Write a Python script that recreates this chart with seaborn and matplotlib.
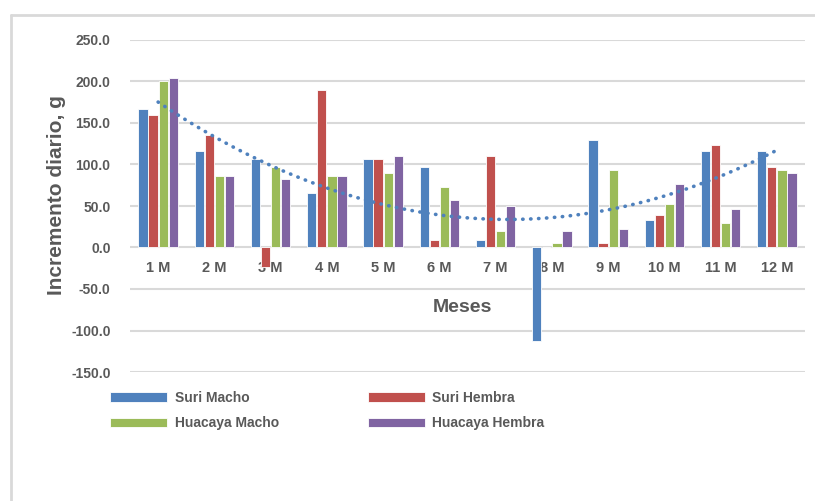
import numpy as np
import pandas as pd
import matplotlib
matplotlib.use("Agg")
import matplotlib.pyplot as plt
from matplotlib.lines import Line2D
import seaborn as sns

months = ["1 M", "2 M", "3 M", "4 M", "5 M", "6 M", "7 M", "8 M", "9 M", "10 M", "11 M", "12 M"]
series_names = ["Suri Macho", "Suri Hembra", "Huacaya Macho", "Huacaya Hembra"]
suri_macho = [167, 116, 107, 66, 107, 97, 9, -113, 130, 33, 116, 116]
suri_hembra = [160, 136, -24, 190, 107, 9, 110, 0, 6, 39, 123, 97]
huacaya_macho = [200, 86, 97, 86, 90, 73, 20, 6, 93, 53, 30, 93]
huacaya_hembra = [204, 86, 83, 86, 110, 57, 50, 20, 22, 77, 46, 90]
colors = ["#4F81BD", "#C0504D", "#9BBB59", "#8064A2"]
y_ticks = [-150, -100, -50, 0, 50, 100, 150, 200, 250]

sns.set_theme(style="white")
plt.rcParams["font.family"] = ["Liberation Sans", "DejaVu Sans"]
text_color = "#595959"
grid_color = "#D9D9D9"

rows = []
for name, vals in zip(series_names, [suri_macho, suri_hembra, huacaya_macho, huacaya_hembra]):
    for m, v in zip(months, vals):
        rows.append({"Mes": m, "Valor": v, "Serie": name})
df = pd.DataFrame(rows)

W, H = 815, 501
fig = plt.figure(figsize=(W / 100, H / 100), dpi=100)
ax = fig.add_axes([130 / W, 1 - 372 / H, (805 - 130) / W, (372 - 40) / H])

for t in y_ticks:
    ax.axhline(t, color=grid_color, lw=1.5, zorder=0)

sns.barplot(data=df, x="Mes", y="Valor", hue="Serie", order=months, hue_order=series_names,
            palette=colors, width=0.72, gap=0.08, saturation=1, edgecolor="white",
            linewidth=0.6, ax=ax, legend=True, zorder=2)

# polynomial (order 2) trendline of Suri Macho
xs = np.arange(len(months))
coef = np.polyfit(xs, suri_macho, 2)
xf = np.linspace(0, len(months) - 1, 200)
ax.plot(xf, np.polyval(coef, xf), color="#4F81BD", lw=2.6, linestyle=(0, (0.1, 2.1)),
        dash_capstyle="round", zorder=3)

ax.set_ylim(-150, 250)
ax.set_xlim(-0.5, len(months) - 0.5)
ax.set_yticks(y_ticks)
ax.set_yticklabels([f"{t:.1f}" for t in y_ticks])
for s in ax.spines.values():
    s.set_visible(False)
ax.spines["bottom"].set_position(("data", 0))
ax.tick_params(axis="both", length=0, colors=text_color)
ax.tick_params(axis="y", pad=14, labelsize=10)
ax.tick_params(axis="x", pad=10, labelsize=10.5)
for lab in ax.get_xticklabels() + ax.get_yticklabels():
    lab.set_fontweight("bold")
    lab.set_color(text_color)
ax.set_xlabel("")
ax.set_ylabel("")

fig.text(57 / W, 1 - 195 / H, "Incremento diario, g", rotation=90, ha="center", va="center",
         fontsize=15, fontweight="bold", color=text_color)
fig.text(462 / W, 1 - 308 / H, "Meses", ha="center", va="center",
         fontsize=14, fontweight="bold", color=text_color)

handles, labels = ax.get_legend_handles_labels()
ax.get_legend().remove()
order = [0, 2, 1, 3]
leg = fig.legend([handles[i] for i in order], [labels[i] for i in order], ncol=2, loc="upper left",
                 bbox_to_anchor=(110 / W, 1 - 391 / H), frameon=False,
                 borderpad=0, borderaxespad=0, handlelength=4.1, handleheight=0.65,
                 handletextpad=0.55, columnspacing=6.4, labelspacing=0.8,
                 prop={"size": 10, "weight": "bold"})
for t in leg.get_texts():
    t.set_color(text_color)

# chart border (left and top)
fig.add_artist(Line2D([11 / W, 11 / W], [0, 1 - 15 / H], color=grid_color, lw=2))
fig.add_artist(Line2D([11 / W, 1], [1 - 15 / H, 1 - 15 / H], color=grid_color, lw=2))

fig.savefig("out.png", dpi=100)
